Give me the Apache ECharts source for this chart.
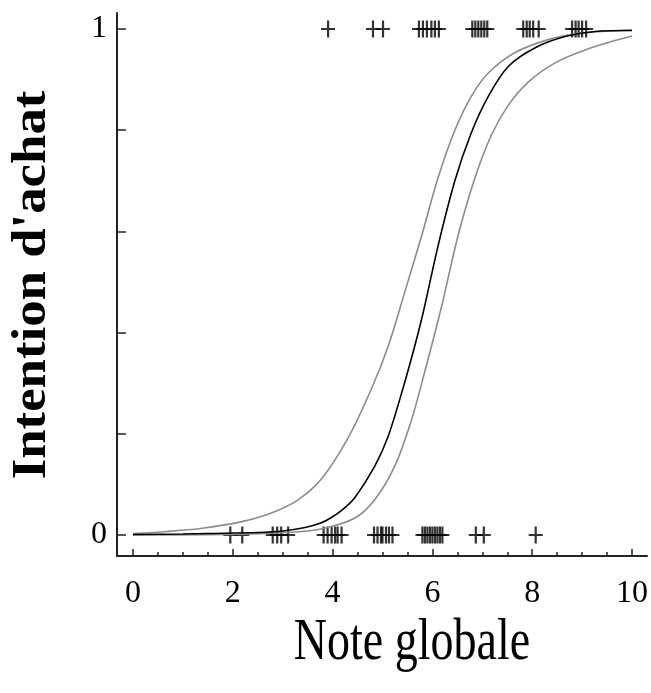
<!DOCTYPE html>
<html>
<head>
<meta charset="utf-8">
<script src="https://cdn.jsdelivr.net/npm/echarts@6/dist/echarts.min.js"></script>
<style>html,body{margin:0;padding:0;background:#fff}#c{width:651px;height:693px}</style>
</head>
<body>
<div id="c"></div>
<script>
// Fitted logistic curve
const fitX = [0, 1.0, 1.5, 2.5, 3.0, 3.45, 3.75, 3.97, 4.2, 4.44, 4.84, 5.11, 5.44, 5.78, 6.11, 6.45, 6.78, 7.12, 7.52, 8.06, 8.66, 9.26, 10];
const fitY = [0.001, 0.002, 0.003, 0.005, 0.008, 0.015, 0.023, 0.034, 0.05, 0.073, 0.135, 0.194, 0.30, 0.425, 0.57, 0.70, 0.795, 0.867, 0.926, 0.963, 0.985, 0.995, 0.997];
// Upper confidence band
const upX = [0, 0.68, 1.35, 2.16, 2.76, 3.3, 3.77, 4.3, 4.77, 5.11, 5.44, 5.78, 6.11, 6.45, 6.78, 7.12, 7.65, 8.32, 8.99, 10];
const upY = [0.003, 0.007, 0.013, 0.026, 0.043, 0.069, 0.11, 0.19, 0.287, 0.372, 0.478, 0.59, 0.705, 0.80, 0.867, 0.913, 0.953, 0.979, 0.992, 0.998];
// Lower confidence band
const loX = [0, 1.76, 3.1, 3.77, 4.44, 4.84, 5.24, 5.58, 5.84, 6.18, 6.51, 6.85, 7.18, 7.52, 7.92, 8.46, 9.13, 10];
const loY = [0.0, 0.001, 0.005, 0.012, 0.033, 0.069, 0.135, 0.227, 0.32, 0.45, 0.59, 0.705, 0.79, 0.849, 0.895, 0.933, 0.961, 0.986];
// Observations: purchase intention = 1
const yesX = [3.91, 4.81, 5.01, 5.73, 5.81, 5.89, 5.98, 6.05, 6.13, 6.8, 6.86, 6.92, 6.98, 7.04, 7.1, 7.82, 7.89, 7.95, 8.02, 8.13, 8.8, 8.87, 8.93, 9.0, 9.08];
// Observations: purchase intention = 0
const noX = [1.95, 2.19, 2.80, 2.89, 2.97, 3.11, 3.82, 3.90, 3.98, 4.05, 4.10, 4.18, 4.83, 4.9, 4.97, 5.0, 5.07, 5.13, 5.2, 5.8, 5.85, 5.9, 5.95, 6.0, 6.05, 6.1, 6.15, 6.2, 6.87, 7.03, 8.07];
const yLabels = ['0', '1'];
const xTitle = 'Note globale';
const yTitle = "Intention d'achat";

const plusPath = 'path://M-1.1,-8.5 L1.1,-8.5 L1.1,-1.1 L7,-1.1 L7,1.1 L1.1,1.1 L1.1,8.5 L-1.1,8.5 L-1.1,1.1 L-7,1.1 L-7,-1.1 L-1.1,-1.1 Z';
const serif = '"Liberation Serif", "Times New Roman", serif';

const chart = echarts.init(document.getElementById('c'), null, {renderer: 'canvas'});
const lineBase = {type: 'line', xAxisIndex: 0, yAxisIndex: 0, smooth: 0.3, showSymbol: false, clip: false};
const option = {
  animation: false,
  backgroundColor: '#fff',
  grid: [
    {left: 133, right: 10, top: 29, bottom: 158},
    {left: 117, right: 4, top: 13, bottom: 137}
  ],
  xAxis: [
    {
      type: 'value', gridIndex: 0, min: 0, max: 10, interval: 2, offset: 21,
      axisLine: {show: false, onZero: false},
      axisTick: {show: true, inside: true, length: 7, lineStyle: {color: '#222', width: 1.5}},
      minorTick: {show: true, splitNumber: 4, length: 4, lineStyle: {color: '#222', width: 1.5}},
      splitLine: {show: false}, minorSplitLine: {show: false},
      axisLabel: {margin: 22, fontFamily: serif, fontSize: 32, color: '#000'}
    },
    {
      type: 'value', gridIndex: 1, min: 0, max: 1,
      axisLine: {show: true, onZero: false, lineStyle: {color: '#222', width: 2}},
      axisTick: {show: false}, axisLabel: {show: false}, splitLine: {show: false}
    }
  ],
  yAxis: [
    {
      type: 'value', gridIndex: 0, min: 0, max: 1, interval: 0.2, offset: 16,
      axisLine: {show: false, onZero: false},
      axisTick: {show: true, inside: true, length: 9, lineStyle: {color: '#222', width: 1.5}},
      splitLine: {show: false},
      axisLabel: {
        margin: 10, fontFamily: serif, fontSize: 32, color: '#000',
        formatter: function (v) {
          if (Math.abs(v) < 1e-6) return yLabels[0];
          if (Math.abs(v - 1) < 1e-6) return yLabels[1];
          return '';
        }
      }
    },
    {
      type: 'value', gridIndex: 1, min: 0, max: 1,
      axisLine: {show: true, onZero: false, lineStyle: {color: '#222', width: 2}},
      axisTick: {show: false}, axisLabel: {show: false}, splitLine: {show: false}
    }
  ],
  graphic: [
    {type: 'text', x: 412, y: 643, scaleY: 1.3,
     style: {text: xTitle, font: '46px ' + serif, fill: '#000', align: 'center', verticalAlign: 'middle'}},
    {type: 'text', x: 33, y: 285, rotation: Math.PI / 2, scaleX: 1.1,
     style: {text: yTitle, font: 'bold 48px ' + serif, fill: '#000', align: 'center', verticalAlign: 'middle'}}
  ],
  series: [
    Object.assign({}, lineBase, {lineStyle: {color: '#8c8c8c', width: 1.6}, data: upX.map((x, i) => [x, upY[i]])}),
    Object.assign({}, lineBase, {lineStyle: {color: '#8c8c8c', width: 1.6}, data: loX.map((x, i) => [x, loY[i]])}),
    Object.assign({}, lineBase, {lineStyle: {color: '#000', width: 1.6}, data: fitX.map((x, i) => [x, fitY[i]])}),
    {type: 'scatter', xAxisIndex: 0, yAxisIndex: 0, clip: false, symbol: plusPath, symbolSize: [14, 17],
     itemStyle: {color: '#000'}, data: yesX.map(x => [x, 1])},
    {type: 'scatter', xAxisIndex: 0, yAxisIndex: 0, clip: false, symbol: plusPath, symbolSize: [14, 17],
     itemStyle: {color: '#000'}, data: noX.map(x => [x, 0])}
  ]
};
chart.setOption(option);
</script>
</body>
</html>
